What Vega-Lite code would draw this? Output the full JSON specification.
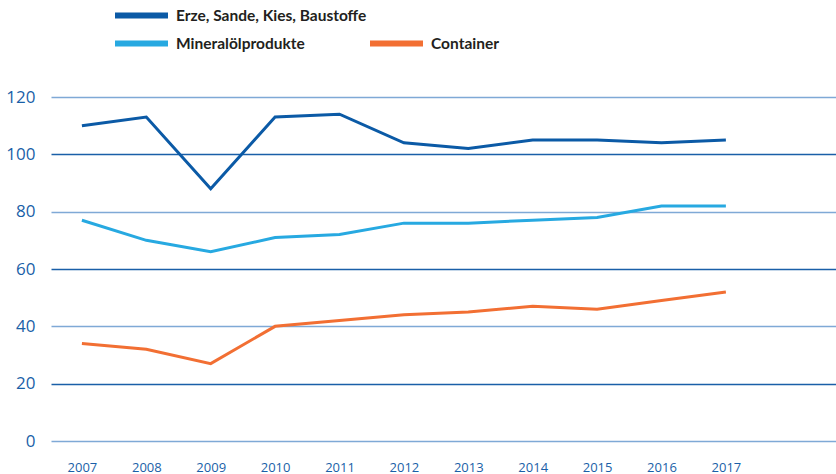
{
  "$schema": "https://vega.github.io/schema/vega-lite/v6.json",
  "width": 785,
  "height": 344,
  "autosize": {"type": "none"},
  "padding": {"left": 51, "top": 97, "right": 0, "bottom": 33},
  "background": "white",
  "config": {
    "view": {"stroke": null},
    "legend": {
      "title": null,
      "orient": "none",
      "symbolType": "stroke",
      "symbolSize": 2809,
      "symbolStrokeWidth": 6,
      "labelFont": "Lato",
      "labelFontWeight": "bold",
      "labelFontSize": 15.5,
      "labelColor": "#231f20",
      "labelOffset": 5,
      "labelLimit": 400
    }
  },
  "data": {
    "values": [
      {"year": 2007, "series": "Erze, Sande, Kies, Baustoffe", "value": 110},
      {"year": 2008, "series": "Erze, Sande, Kies, Baustoffe", "value": 113},
      {"year": 2009, "series": "Erze, Sande, Kies, Baustoffe", "value": 88},
      {"year": 2010, "series": "Erze, Sande, Kies, Baustoffe", "value": 113},
      {"year": 2011, "series": "Erze, Sande, Kies, Baustoffe", "value": 114},
      {"year": 2012, "series": "Erze, Sande, Kies, Baustoffe", "value": 104},
      {"year": 2013, "series": "Erze, Sande, Kies, Baustoffe", "value": 102},
      {"year": 2014, "series": "Erze, Sande, Kies, Baustoffe", "value": 105},
      {"year": 2015, "series": "Erze, Sande, Kies, Baustoffe", "value": 105},
      {"year": 2016, "series": "Erze, Sande, Kies, Baustoffe", "value": 104},
      {"year": 2017, "series": "Erze, Sande, Kies, Baustoffe", "value": 105},
      {"year": 2007, "series": "Mineralölprodukte", "value": 77},
      {"year": 2008, "series": "Mineralölprodukte", "value": 70},
      {"year": 2009, "series": "Mineralölprodukte", "value": 66},
      {"year": 2010, "series": "Mineralölprodukte", "value": 71},
      {"year": 2011, "series": "Mineralölprodukte", "value": 72},
      {"year": 2012, "series": "Mineralölprodukte", "value": 76},
      {"year": 2013, "series": "Mineralölprodukte", "value": 76},
      {"year": 2014, "series": "Mineralölprodukte", "value": 77},
      {"year": 2015, "series": "Mineralölprodukte", "value": 78},
      {"year": 2016, "series": "Mineralölprodukte", "value": 82},
      {"year": 2017, "series": "Mineralölprodukte", "value": 82},
      {"year": 2007, "series": "Container", "value": 34},
      {"year": 2008, "series": "Container", "value": 32},
      {"year": 2009, "series": "Container", "value": 27},
      {"year": 2010, "series": "Container", "value": 40},
      {"year": 2011, "series": "Container", "value": 42},
      {"year": 2012, "series": "Container", "value": 44},
      {"year": 2013, "series": "Container", "value": 45},
      {"year": 2014, "series": "Container", "value": 47},
      {"year": 2015, "series": "Container", "value": 46},
      {"year": 2016, "series": "Container", "value": 49},
      {"year": 2017, "series": "Container", "value": 52}
    ]
  },
  "encoding": {
    "x": {
      "field": "year",
      "type": "quantitative",
      "scale": {"domain": [2006.52, 2018.71], "nice": false, "zero": false},
      "axis": {
        "values": [2007, 2008, 2009, 2010, 2011, 2012, 2013, 2014, 2015, 2016, 2017],
        "format": "d",
        "title": null,
        "grid": false,
        "domain": false,
        "ticks": false,
        "labelPadding": 20,
        "labelFont": "Open Sans",
        "labelFontSize": 13,
        "labelColor": "#1a5fa8"
      }
    },
    "y": {
      "field": "value",
      "type": "quantitative",
      "scale": {"domain": [0, 120], "nice": false},
      "axis": {
        "values": [0, 20, 40, 60, 80, 100, 120],
        "title": null,
        "domain": false,
        "ticks": false,
        "labelPadding": 16,
        "labelFont": "Open Sans",
        "labelFontSize": 17,
        "labelColor": "#1a5fa8",
        "gridWidth": 1.5,
        "gridColor": {"condition": {"test": "datum.value % 40 === 0", "value": "#7fa9d6"}, "value": "#1a5fa8"}
      }
    }
  },
  "layer": [
    {
      "transform": [{"filter": "datum.series === 'Erze, Sande, Kies, Baustoffe'"}],
      "mark": {"type": "line", "strokeWidth": 3},
      "encoding": {
        "color": {
          "field": "series",
          "type": "nominal",
          "scale": {"domain": ["Erze, Sande, Kies, Baustoffe"], "range": ["#0b5aa6"]},
          "legend": {"legendX": 61, "legendY": -111}
        }
      }
    },
    {
      "transform": [{"filter": "datum.series === 'Mineralölprodukte'"}],
      "mark": {"type": "line", "strokeWidth": 3},
      "encoding": {
        "color": {
          "field": "series",
          "type": "nominal",
          "scale": {"domain": ["Mineralölprodukte"], "range": ["#27a9e1"]},
          "legend": {"legendX": 61, "legendY": -83}
        }
      }
    },
    {
      "transform": [{"filter": "datum.series === 'Container'"}],
      "mark": {"type": "line", "strokeWidth": 3},
      "encoding": {
        "color": {
          "field": "series",
          "type": "nominal",
          "scale": {"domain": ["Container"], "range": ["#f26f33"]},
          "legend": {"legendX": 316, "legendY": -83}
        }
      }
    }
  ],
  "resolve": {"scale": {"color": "independent"}}
}
